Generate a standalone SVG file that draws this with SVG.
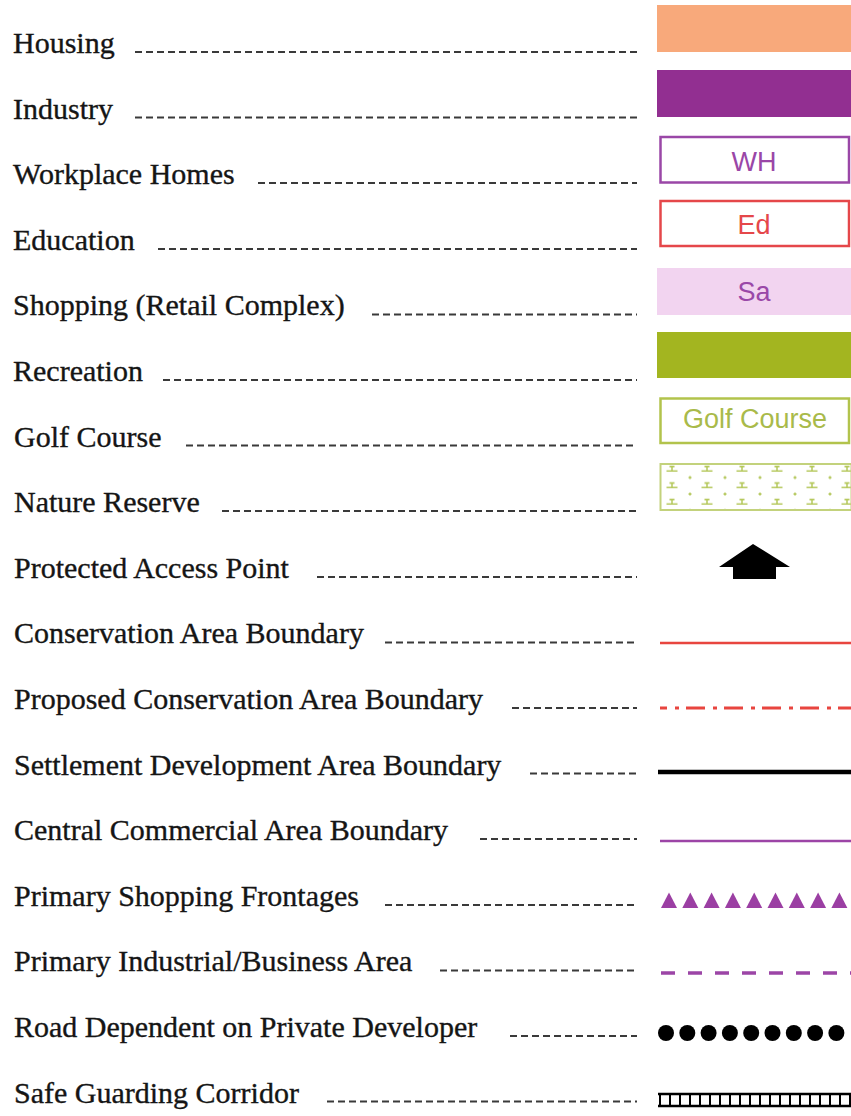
<svg xmlns="http://www.w3.org/2000/svg" width="851" height="1116" viewBox="0 0 851 1116">
<style>
.lbl{font-family:"Liberation Serif","Times New Roman",serif;font-size:30px;fill:#151515;stroke:#151515;stroke-width:0.35}
.sw{font-family:"Liberation Sans",Arial,sans-serif;font-size:27px;text-anchor:middle}
.lead{stroke:#3a3a3a;stroke-width:2;stroke-dasharray:7 4;fill:none}
</style>
<defs>
<pattern id="nat" x="655" y="463" width="35" height="16.5" patternUnits="userSpaceOnUse">
<g stroke="#b4c75a" stroke-width="1.5" fill="none">
<path d="M11.5 8h11M17 8v-5M14.5 3.5h5"/>
<path d="M35 16v-3M33.5 14.5h3M0 16v-3M-1.5 14.5h3"/>
</g>
</pattern>
<path id="tri" d="M0 0L8 -15.5L16 0Z" fill="#9b3fa3"/>
</defs>
<rect width="851" height="1116" fill="#fff"/>
<g id="connectors">
<line class="lead" x1="135" y1="52" x2="637" y2="52"/>
<line class="lead" x1="135" y1="117.5" x2="637" y2="117.5"/>
<line class="lead" x1="258" y1="183" x2="637" y2="183"/>
<line class="lead" x1="158" y1="249" x2="637" y2="249"/>
<line class="lead" x1="372" y1="314.5" x2="637" y2="314.5"/>
<line class="lead" x1="163" y1="380" x2="637" y2="380"/>
<line class="lead" x1="186" y1="445.5" x2="637" y2="445.5"/>
<line class="lead" x1="222" y1="511" x2="637" y2="511"/>
<line class="lead" x1="317" y1="577" x2="637" y2="577"/>
<line class="lead" x1="385" y1="642.5" x2="637" y2="642.5"/>
<line class="lead" x1="512" y1="708" x2="637" y2="708"/>
<line class="lead" x1="530" y1="773.5" x2="637" y2="773.5"/>
<line class="lead" x1="480" y1="839" x2="637" y2="839"/>
<line class="lead" x1="385" y1="905" x2="637" y2="905"/>
<line class="lead" x1="440" y1="970.5" x2="637" y2="970.5"/>
<line class="lead" x1="510" y1="1036" x2="637" y2="1036"/>
<line class="lead" x1="327" y1="1101.5" x2="637" y2="1101.5"/>
</g>
<g id="housing"><text class="lbl" x="13" y="53">Housing</text><rect x="657" y="5" width="194" height="47" fill="#f8a97b"/></g>
<g id="industry"><text class="lbl" x="13" y="118.6">Industry</text><rect x="657" y="70" width="194" height="47" fill="#922f91"/></g>
<g id="workplace-homes"><text class="lbl" x="13" y="184.2">Workplace Homes</text><rect x="660.5" y="137" width="188.5" height="45.5" fill="#fff" stroke="#9a47a7" stroke-width="2.5"/><text class="sw" x="754" y="171" fill="#9a47a7">WH</text></g>
<g id="education"><text class="lbl" x="13" y="249.8">Education</text><rect x="660.5" y="201" width="188.5" height="45" fill="#fff" stroke="#e5474a" stroke-width="2.5"/><text class="sw" x="754" y="234" fill="#e5474a">Ed</text></g>
<g id="shopping"><text class="lbl" x="13" y="315.4">Shopping (Retail Complex)</text><rect x="657" y="268" width="194" height="47" fill="#f2d4f0"/><text class="sw" x="754" y="301" fill="#9a48a8">Sa</text></g>
<g id="recreation"><text class="lbl" x="13" y="381">Recreation</text><rect x="657" y="332" width="194" height="46" fill="#a3b520"/></g>
<g id="golf-course"><text class="lbl" x="14" y="446.6">Golf Course</text><rect x="660.5" y="398.5" width="188.5" height="44.5" fill="#fff" stroke="#b2c34c" stroke-width="2.5"/><text class="sw" x="755" y="428" fill="#a9ba4a">Golf Course</text></g>
<g id="nature-reserve"><text class="lbl" x="14" y="512.2">Nature Reserve</text><rect x="660.5" y="464" width="191" height="46" fill="url(#nat)" stroke="#c3d27c" stroke-width="2"/></g>
<g id="protected-access-point"><text class="lbl" x="14" y="577.8">Protected Access Point</text><polygon points="753,544 790,567 776,567 776,579 733,579 733,567 719,567" fill="#000"/></g>
<g id="conservation-area-boundary"><text class="lbl" x="14" y="643.4">Conservation Area Boundary</text><line x1="660" y1="643" x2="851" y2="643" stroke="#e8453f" stroke-width="2.5"/></g>
<g id="proposed-conservation-area-boundary"><text class="lbl" x="14" y="709">Proposed Conservation Area Boundary</text><line x1="660" y1="708" x2="851" y2="708" stroke="#e8453f" stroke-width="3" stroke-dasharray="19 8 4 7" stroke-dashoffset="12"/></g>
<g id="settlement-development-area-boundary"><text class="lbl" x="14" y="774.6">Settlement Development Area Boundary</text><line x1="658" y1="772" x2="851" y2="772" stroke="#000" stroke-width="4.5"/></g>
<g id="central-commercial-area-boundary"><text class="lbl" x="14" y="840.2">Central Commercial Area Boundary</text><line x1="660" y1="841" x2="851" y2="841" stroke="#9c45a6" stroke-width="2.5"/></g>
<g id="primary-shopping-frontages"><text class="lbl" x="14" y="905.8">Primary Shopping Frontages</text>
<use href="#tri" x="661" y="908"/><use href="#tri" x="682.3" y="908"/><use href="#tri" x="703.6" y="908"/><use href="#tri" x="724.9" y="908"/><use href="#tri" x="746.2" y="908"/><use href="#tri" x="767.5" y="908"/><use href="#tri" x="788.8" y="908"/><use href="#tri" x="810.1" y="908"/><use href="#tri" x="831.4" y="908"/></g>
<g id="primary-industrial-business-area"><text class="lbl" x="14" y="971.4">Primary Industrial/Business Area</text><line x1="661" y1="973" x2="851" y2="973" stroke="#9c45a6" stroke-width="3.5" stroke-dasharray="14 13"/></g>
<g id="road-dependent-on-private-developer"><text class="lbl" x="14" y="1037">Road Dependent on Private Developer</text>
<g fill="#000"><circle cx="666" cy="1033" r="8"/><circle cx="687.3" cy="1033" r="8"/><circle cx="708.6" cy="1033" r="8"/><circle cx="729.9" cy="1033" r="8"/><circle cx="751.2" cy="1033" r="8"/><circle cx="772.5" cy="1033" r="8"/><circle cx="793.8" cy="1033" r="8"/><circle cx="815.1" cy="1033" r="8"/><circle cx="836.4" cy="1033" r="8"/></g></g>
<g id="safe-guarding-corridor"><text class="lbl" x="14" y="1102.6">Safe Guarding Corridor</text>
<line x1="658" y1="1094" x2="851" y2="1094" stroke="#000" stroke-width="2.5"/><line x1="658" y1="1106" x2="851" y2="1106" stroke="#000" stroke-width="2.5"/><line x1="659" y1="1100" x2="851" y2="1100" stroke="#000" stroke-width="12" stroke-dasharray="2 8"/></g>
</svg>
